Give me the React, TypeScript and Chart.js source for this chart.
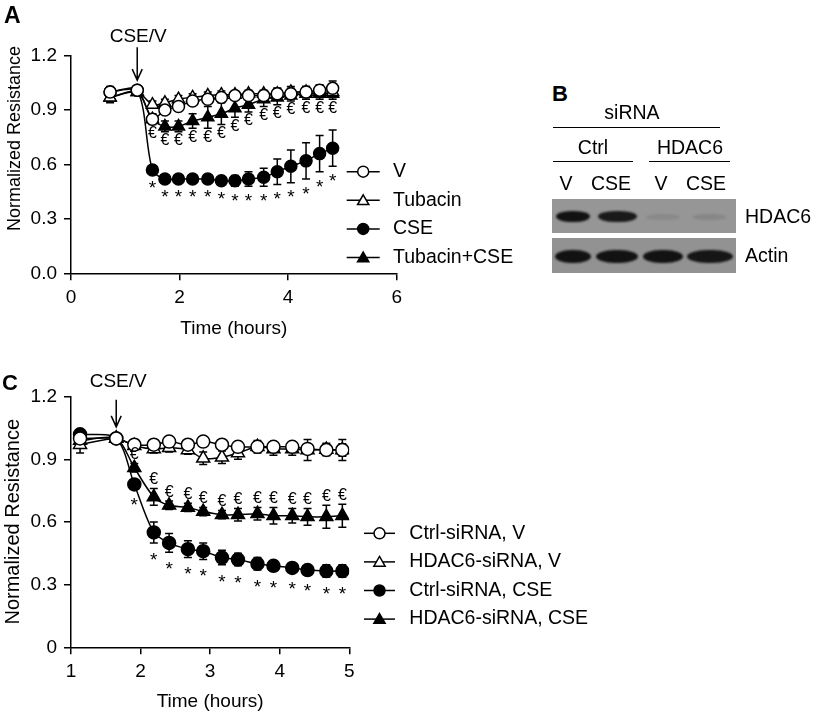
import React, { useEffect, useRef } from "react";
import { Chart, registerables } from "chart.js";

Chart.register(...registerables);

const FONT = "'Liberation Sans', Arial, Helvetica, sans-serif";

// ================= Panel A data =================
const timeA = [0.72, 1.22, 1.5, 1.73, 1.98, 2.24, 2.52, 2.77, 3.02, 3.27, 3.55, 3.8, 4.05, 4.33, 4.58, 4.82];
const vA = [1.0, 1.01, 0.85, 0.9, 0.92, 0.95, 0.96, 0.97, 0.98, 0.98, 0.98, 0.99, 0.99, 1.0, 1.01, 1.02];
const vAErr = [0.02, 0.01, 0.02, 0.02, 0.02, 0.02, 0.02, 0.02, 0.02, 0.02, 0.02, 0.03, 0.03, 0.03, 0.03, 0.04];
const tubacinA = [0.97, 1.0, 0.93, 0.94, 0.96, 0.97, 0.98, 0.985, 0.985, 0.99, 0.99, 0.99, 1.0, 1.0, 1.0, 1.0];
const tubacinAErr = [0.03, 0.01, 0.02, 0.02, 0.02, 0.02, 0.02, 0.02, 0.02, 0.02, 0.02, 0.03, 0.03, 0.03, 0.03, 0.03];
const cseA = [1.0, 1.01, 0.57, 0.52, 0.52, 0.52, 0.52, 0.51, 0.51, 0.52, 0.53, 0.56, 0.59, 0.62, 0.66, 0.69];
const cseAErr = [0.03, 0.01, 0.02, 0.02, 0.02, 0.02, 0.02, 0.02, 0.03, 0.04, 0.05, 0.07, 0.09, 0.1, 0.1, 0.1];
const tubCseA = [0.97, 1.0, 0.85, 0.81, 0.81, 0.84, 0.86, 0.88, 0.91, 0.93, 0.96, 0.97, 0.98, 0.99, 0.99, 0.99];
const tubCseAErr = [0.02, 0.01, 0.03, 0.03, 0.03, 0.04, 0.06, 0.06, 0.05, 0.04, 0.04, 0.04, 0.03, 0.03, 0.03, 0.03];
const euroA = ["", "", "€", "€", "€", "€", "€", "€", "€", "€", "€", "€", "€", "€", "€", "€"];
const starA = ["", "", "*", "*", "*", "*", "*", "*", "*", "*", "*", "*", "*", "*", "*", "*"];
const labelsA = ["V", "Tubacin", "CSE", "Tubacin+CSE"];
const xTicksA = [0, 2, 4, 6];
const yTicksA = [0, 0.3, 0.6, 0.9, 1.2];
const yTickLabelsA = ["0.0", "0.3", "0.6", "0.9", "1.2"];

// ================= Panel C data =================
const timeC = [1.13, 1.65, 1.91, 2.19, 2.41, 2.68, 2.9, 3.17, 3.4, 3.68, 3.91, 4.18, 4.4, 4.67, 4.9];
const ctrlVC = [1.0, 1.0, 0.97, 0.97, 0.985, 0.97, 0.985, 0.97, 0.96, 0.96, 0.96, 0.96, 0.95, 0.945, 0.945];
const ctrlVCErr = [0.02, 0.01, 0.01, 0.01, 0.01, 0.01, 0.01, 0.01, 0.02, 0.02, 0.02, 0.02, 0.02, 0.02, 0.03];
const hdacVC = [0.97, 1.0, 0.965, 0.95, 0.955, 0.945, 0.905, 0.91, 0.93, 0.96, 0.95, 0.95, 0.945, 0.947, 0.945];
const hdacVCErr = [0.04, 0.01, 0.02, 0.02, 0.02, 0.02, 0.03, 0.03, 0.03, 0.03, 0.03, 0.03, 0.05, 0.03, 0.05];
const ctrlCseC = [1.02, 1.0, 0.78, 0.55, 0.5, 0.47, 0.46, 0.43, 0.42, 0.4, 0.39, 0.38, 0.37, 0.365, 0.365];
const ctrlCseCErr = [0.02, 0.01, 0.02, 0.05, 0.045, 0.04, 0.04, 0.035, 0.03, 0.03, 0.025, 0.02, 0.02, 0.03, 0.03];
const hdacCseC = [0.99, 1.0, 0.86, 0.72, 0.68, 0.67, 0.65, 0.635, 0.635, 0.64, 0.63, 0.63, 0.625, 0.625, 0.63];
const hdacCseCErr = [0.02, 0.01, 0.02, 0.04, 0.02, 0.02, 0.02, 0.02, 0.03, 0.03, 0.04, 0.035, 0.04, 0.055, 0.055];
const euroC = ["", "", "€", "€", "€", "€", "€", "€", "€", "€", "€", "€", "€", "€", "€"];
const starC = ["", "", "*", "*", "*", "*", "*", "*", "*", "*", "*", "*", "*", "*", "*"];
const labelsC = ["Ctrl-siRNA, V", "HDAC6-siRNA, V", "Ctrl-siRNA, CSE", "HDAC6-siRNA, CSE"];
const xTicksC = [1, 2, 3, 4, 5];
const yTicksC = [0, 0.3, 0.6, 0.9, 1.2];
const yTickLabelsC = ["0", "0.3", "0.6", "0.9", "1.2"];

// ================= Panel B (western blot) =================
const siRNAGroups = ["Ctrl", "HDAC6"];
const blotLanes = ["V", "CSE", "V", "CSE"];
const hdac6Intensity = [1.0, 0.95, 0.1, 0.12];
const actinIntensity = [1.0, 1.0, 1.0, 0.97];
const blotRows = ["HDAC6", "Actin"];

// ================= plugins =================
const errorBarPlugin = {
  id: "errorBars",
  beforeDatasetsDraw(chart: any) {
    const { ctx } = chart;
    const ys = chart.scales.y;
    ctx.save();
    ctx.strokeStyle = "#000";
    ctx.lineWidth = 1.5;
    chart.data.datasets.forEach((ds: any, i: number) => {
      if (!ds.errors) return;
      const meta = chart.getDatasetMeta(i);
      meta.data.forEach((pt: any, j: number) => {
        const v = ds.data[j].y;
        const e = ds.errors[j];
        if (!e) return;
        const top = ys.getPixelForValue(v + e);
        const bot = ys.getPixelForValue(v - e);
        const cap = 4;
        ctx.beginPath();
        ctx.moveTo(pt.x, top);
        ctx.lineTo(pt.x, bot);
        ctx.moveTo(pt.x - cap, top);
        ctx.lineTo(pt.x + cap, top);
        ctx.moveTo(pt.x - cap, bot);
        ctx.lineTo(pt.x + cap, bot);
        ctx.stroke();
      });
    });
    ctx.restore();
  },
};

const markPlugin = {
  id: "sigMarks",
  afterDatasetsDraw(chart: any) {
    const { ctx } = chart;
    const ys = chart.scales.y;
    ctx.save();
    ctx.fillStyle = "#000";
    ctx.textAlign = "center";
    ctx.textBaseline = "middle";
    chart.data.datasets.forEach((ds: any, i: number) => {
      if (!ds.marks) return;
      const meta = chart.getDatasetMeta(i);
      ds.marks.forEach((m: string, j: number) => {
        if (!m) return;
        const v = ds.data[j].y;
        const e = ds.errors ? ds.errors[j] : 0;
        const pt = meta.data[j];
        const isStar = m === "*";
        const size = isStar ? 19 : 16;
        let y =
          ds.markSide === "below"
            ? ys.getPixelForValue(v - e) + ds.markGap
            : ys.getPixelForValue(v + e) - ds.markGap;
        if (isStar) y += size * 0.24;
        ctx.font = `${size}px ${FONT}`;
        ctx.fillText(m, pt.x, y);
      });
    });
    ctx.restore();
  },
};

function drawMarker(ctx: CanvasRenderingContext2D, style: string, cx: number, cy: number, r: number, fill: string) {
  ctx.beginPath();
  if (style === "triangle") {
    for (let k = 0; k < 3; k++) {
      const a = (k * 2 * Math.PI) / 3;
      const px = cx + Math.sin(a) * r;
      const py = cy - Math.cos(a) * r;
      if (k === 0) ctx.moveTo(px, py);
      else ctx.lineTo(px, py);
    }
    ctx.closePath();
  } else {
    ctx.arc(cx, cy, r, 0, Math.PI * 2);
  }
  ctx.fillStyle = fill;
  ctx.fill();
  ctx.stroke();
}

const legendPlugin = {
  id: "figLegend",
  afterDraw(chart: any, _a: any, o: any) {
    const { ctx } = chart;
    ctx.save();
    chart.data.datasets.forEach((ds: any, i: number) => {
      const y = o.y + i * o.dy;
      ctx.strokeStyle = "#000";
      ctx.lineWidth = 1.5;
      ctx.beginPath();
      ctx.moveTo(o.x, y);
      ctx.lineTo(o.x + o.len, y);
      ctx.stroke();
      const cx = o.x + o.len / 2;
      drawMarker(ctx, ds.pointStyle, cx, ds.pointStyle === "triangle" ? y + 1 : y, ds.pointStyle === "triangle" ? o.triR : o.circR, ds.pointBackgroundColor);
      ctx.fillStyle = "#000";
      ctx.font = `${o.size}px ${FONT}`;
      ctx.textAlign = "left";
      ctx.textBaseline = "middle";
      ctx.fillText(ds.label, o.textX, y);
    });
    ctx.restore();
  },
};

const arrowPlugin = {
  id: "figArrow",
  afterDraw(chart: any, _a: any, o: any) {
    const { ctx } = chart;
    const x = chart.scales.x.getPixelForValue(o.x);
    const tip = chart.scales.y.getPixelForValue(o.yRef) - o.tipGap;
    ctx.save();
    ctx.strokeStyle = "#000";
    ctx.lineWidth = 1.5;
    ctx.beginPath();
    ctx.moveTo(x, tip - o.length);
    ctx.lineTo(x, tip);
    ctx.moveTo(x - 5, tip - 11);
    ctx.lineTo(x, tip);
    ctx.lineTo(x + 5, tip - 11);
    ctx.stroke();
    ctx.fillStyle = "#000";
    ctx.font = `${o.size}px ${FONT}`;
    ctx.textAlign = "center";
    ctx.textBaseline = "middle";
    ctx.fillText(o.text, x + o.textDx, tip - o.textGap);
    ctx.restore();
  },
};

const yTitlePlugin = {
  id: "yTitle",
  afterDraw(chart: any, _a: any, o: any) {
    const { ctx } = chart;
    ctx.save();
    ctx.translate(o.x, o.y);
    ctx.rotate(-Math.PI / 2);
    ctx.fillStyle = "#000";
    ctx.font = `${o.size}px ${FONT}`;
    ctx.textAlign = "center";
    ctx.textBaseline = "middle";
    ctx.fillText(o.text, 0, 0);
    ctx.restore();
  },
};

type SeriesSpec = {
  label: string;
  values: number[];
  errors: number[];
  shape: "circle" | "triangle";
  filled: boolean;
  marks?: string[];
  markSide?: "above" | "below";
  markGap?: number;
};

type PanelSpec = {
  width: number;
  height: number;
  time: number[];
  series: SeriesSpec[];
  xMin: number;
  xMax: number;
  xTicks: number[];
  yTicks: number[];
  yTickLabels: string[];
  padding: { left: number; top: number; right: number; bottom: number };
  yWidth: number;
  xHeight: number;
  xTitlePadBottom: number;
  circR: number;
  triR: number;
  legend: any;
  arrow: any;
  yTitle: any;
};

function buildConfig(p: PanelSpec): any {
  const datasets = p.series.map((s) => ({
    label: s.label,
    data: p.time.map((t, i) => ({ x: t, y: s.values[i] })),
    errors: s.errors,
    marks: s.marks,
    markSide: s.markSide,
    markGap: s.markGap,
    borderColor: "#000",
    borderWidth: 1.5,
    backgroundColor: s.filled ? "#000" : "#fff",
    pointBackgroundColor: s.filled ? "#000" : "#fff",
    pointBorderColor: "#000",
    pointBorderWidth: 1.5,
    pointStyle: s.shape,
    pointRadius: s.shape === "triangle" ? p.triR : p.circR,
    pointHoverRadius: s.shape === "triangle" ? p.triR : p.circR,
    tension: 0.3,
    fill: false,
  }));
  const tickFont = { family: FONT, size: 19, lineHeight: 1 };
  return {
    type: "line",
    data: { datasets },
    options: {
      animation: false,
      responsive: false,
      events: [],
      layout: { padding: p.padding },
      plugins: {
        legend: { display: false },
        tooltip: { enabled: false },
        figLegend: p.legend,
        figArrow: p.arrow,
        yTitle: p.yTitle,
      },
      scales: {
        x: {
          type: "linear",
          min: p.xMin,
          max: p.xMax,
          afterBuildTicks: (s: any) => {
            s.ticks = p.xTicks.map((v) => ({ value: v }));
          },
          afterFit: (s: any) => {
            s.height = p.xHeight;
          },
          ticks: { color: "#000", font: tickFont, padding: 8, autoSkip: false, maxRotation: 0 },
          grid: { display: true, drawOnChartArea: false, drawTicks: true, tickLength: 7, color: "#000", lineWidth: 1.5 },
          border: { display: true, color: "#000", width: 1.5 },
          title: {
            display: true,
            text: "Time (hours)",
            color: "#000",
            font: { family: FONT, size: 19, lineHeight: 1 },
            padding: { top: 0, bottom: p.xTitlePadBottom },
          },
        },
        y: {
          type: "linear",
          min: 0,
          max: 1.2,
          afterBuildTicks: (s: any) => {
            s.ticks = p.yTicks.map((v) => ({ value: v }));
          },
          afterFit: (s: any) => {
            s.width = p.yWidth;
          },
          ticks: {
            color: "#000",
            font: tickFont,
            padding: 7,
            autoSkip: false,
            callback: (_v: any, i: number) => p.yTickLabels[i],
          },
          grid: { display: true, drawOnChartArea: false, drawTicks: true, tickLength: 7, color: "#000", lineWidth: 1.5 },
          border: { display: true, color: "#000", width: 1.5 },
        },
      },
    },
    plugins: [errorBarPlugin, markPlugin, legendPlugin, arrowPlugin, yTitlePlugin],
  };
}

const panelA: PanelSpec = {
  width: 545,
  height: 350,
  time: timeA,
  series: [
    { label: labelsA[0], values: vA, errors: vAErr, shape: "circle", filled: false },
    { label: labelsA[1], values: tubacinA, errors: tubacinAErr, shape: "triangle", filled: false },
    { label: labelsA[2], values: cseA, errors: cseAErr, shape: "circle", filled: true, marks: starA, markSide: "below", markGap: 11 },
    { label: labelsA[3], values: tubCseA, errors: tubCseAErr, shape: "triangle", filled: true, marks: euroA, markSide: "below", markGap: 9 },
  ],
  xMin: 0,
  xMax: 6,
  xTicks: xTicksA,
  yTicks: yTicksA,
  yTickLabels: yTickLabelsA,
  padding: { left: 0, top: 55.7, right: 148.3, bottom: 0 },
  yWidth: 71,
  xHeight: 76.7,
  xTitlePadBottom: 12,
  circR: 6,
  triR: 7,
  legend: { x: 346.7, len: 33, textX: 393, y: 171.7, dy: 28.6, size: 19.5, circR: 5.5, triR: 6.5 },
  arrow: { x: 1.22, yRef: 1.01, tipGap: 10, length: 33, textGap: 43.5, textDx: 1, text: "CSE/V", size: 19 },
  yTitle: { x: 15, y: 138.5, size: 18, text: "Normalized Resistance" },
};

const panelC: PanelSpec = {
  width: 600,
  height: 362,
  time: timeC,
  series: [
    { label: labelsC[0], values: ctrlVC, errors: ctrlVCErr, shape: "circle", filled: false },
    { label: labelsC[1], values: hdacVC, errors: hdacVCErr, shape: "triangle", filled: false },
    { label: labelsC[2], values: ctrlCseC, errors: ctrlCseCErr, shape: "circle", filled: true, marks: starC, markSide: "below", markGap: 13 },
    { label: labelsC[3], values: hdacCseC, errors: hdacCseCErr, shape: "triangle", filled: true, marks: euroC, markSide: "above", markGap: 9 },
  ],
  xMin: 1,
  xMax: 5,
  xTicks: xTicksC,
  yTicks: yTicksC,
  yTickLabels: yTickLabelsC,
  padding: { left: 0, top: 46.7, right: 250.7, bottom: 0 },
  yWidth: 71,
  xHeight: 64.7,
  xTitlePadBottom: 1,
  circR: 6.5,
  triR: 7.5,
  legend: { x: 364, len: 31, textX: 409.3, y: 183.3, dy: 28.6, size: 19.5, circR: 5.5, triR: 6.5 },
  arrow: { x: 1.65, yRef: 1.0, tipGap: 11.6, length: 27, textGap: 45, textDx: 2, text: "CSE/V", size: 19 },
  yTitle: { x: 13, y: 171.7, size: 20, text: "Normalized Resistance" },
};

function ChartCanvas({ spec, left, top }: { spec: PanelSpec; left: number; top: number }) {
  const ref = useRef<HTMLCanvasElement>(null);
  useEffect(() => {
    const chart = new Chart(ref.current as HTMLCanvasElement, buildConfig(spec));
    return () => chart.destroy();
  }, [spec]);
  return (
    <canvas
      ref={ref}
      width={spec.width}
      height={spec.height}
      style={{ position: "absolute", left, top, width: spec.width, height: spec.height }}
    />
  );
}

function Txt({
  x,
  y,
  size,
  bold,
  align = "center",
  children,
}: {
  x: number;
  y: number;
  size: number;
  bold?: boolean;
  align?: "center" | "left";
  children: React.ReactNode;
}) {
  const style: React.CSSProperties = {
    position: "absolute",
    top: y - 0.49 * size,
    left: align === "center" ? x - 100 : x,
    width: align === "center" ? 200 : undefined,
    textAlign: align,
    fontSize: size,
    lineHeight: `${size}px`,
    fontWeight: bold ? "bold" : "normal",
    whiteSpace: "nowrap",
    fontFamily: FONT,
    color: "#000",
  };
  return <div style={style}>{children}</div>;
}

function HLine({ x1, x2, y }: { x1: number; x2: number; y: number }) {
  return <div style={{ position: "absolute", left: x1, top: y - 0.75, width: x2 - x1, height: 1.5, background: "#000" }} />;
}

function Band({ cx, cy, w, h, intensity, bg }: { cx: number; cy: number; w: number; h: number; intensity: number; bg: number }) {
  const g = Math.round(bg - intensity * (bg - 18));
  return (
    <div
      style={{
        position: "absolute",
        left: cx - w / 2,
        top: cy - h / 2,
        width: w,
        height: h,
        borderRadius: "45% / 50%",
        background: `rgb(${g},${g},${g})`,
        filter: "blur(1.3px)",
      }}
    />
  );
}

function PanelB() {
  const laneX = [573, 617, 663, 709];
  const hdacW = [34, 39, 34, 33];
  const actinW = [36, 42, 40, 46];
  const labelX = [566, 611, 661, 706];
  const groupX = [593, 690];
  const bgTop = 150;
  const bgBot = 146;
  return (
    <>
      <Txt x={552} y={94} size={22} bold align="left">B</Txt>
      <Txt x={632} y={112.5} size={19.5}>siRNA</Txt>
      <HLine x1={553} x2={720} y={127.3} />
      {siRNAGroups.map((g, i) => (
        <Txt key={g} x={groupX[i]} y={147.5} size={19.5}>{g}</Txt>
      ))}
      <HLine x1={553} x2={633} y={161.7} />
      <HLine x1={649} x2={730} y={161.7} />
      {blotLanes.map((l, i) => (
        <Txt key={i} x={labelX[i]} y={184} size={19.5}>{l}</Txt>
      ))}
      <div style={{ position: "absolute", left: 552, top: 199.3, width: 184, height: 34, background: `rgb(${bgTop},${bgTop},${bgTop})`, overflow: "hidden" }}>
        {hdac6Intensity.map((v, i) => (
          <Band key={i} cx={laneX[i] - 552} cy={17.5} w={hdacW[i]} h={v > 0.5 ? 11 : 6} intensity={v} bg={bgTop} />
        ))}
      </div>
      <div style={{ position: "absolute", left: 552, top: 238.3, width: 184, height: 34.5, background: `rgb(${bgBot},${bgBot},${bgBot})`, overflow: "hidden" }}>
        {actinIntensity.map((v, i) => (
          <Band key={i} cx={laneX[i] - 552 - (i === 3 ? -1 : 0)} cy={18} w={actinW[i]} h={13} intensity={v} bg={bgBot} />
        ))}
      </div>
      <Txt x={745} y={216.7} size={19.5} align="left">{blotRows[0]}</Txt>
      <Txt x={745} y={255.5} size={19.5} align="left">{blotRows[1]}</Txt>
    </>
  );
}

export default function App() {
  return (
    <div
      style={{
        position: "absolute",
        left: 0,
        top: 0,
        width: 817,
        height: 712,
        overflow: "hidden",
        background: "#fff",
        fontFamily: FONT,
      }}
    >
      <ChartCanvas spec={panelA} left={0} top={0} />
      <ChartCanvas spec={panelC} left={0} top={350} />
      <Txt x={4} y={14.9} size={23} bold align="left">A</Txt>
      <Txt x={2} y={383} size={22} bold align="left">C</Txt>
      <PanelB />
    </div>
  );
}
